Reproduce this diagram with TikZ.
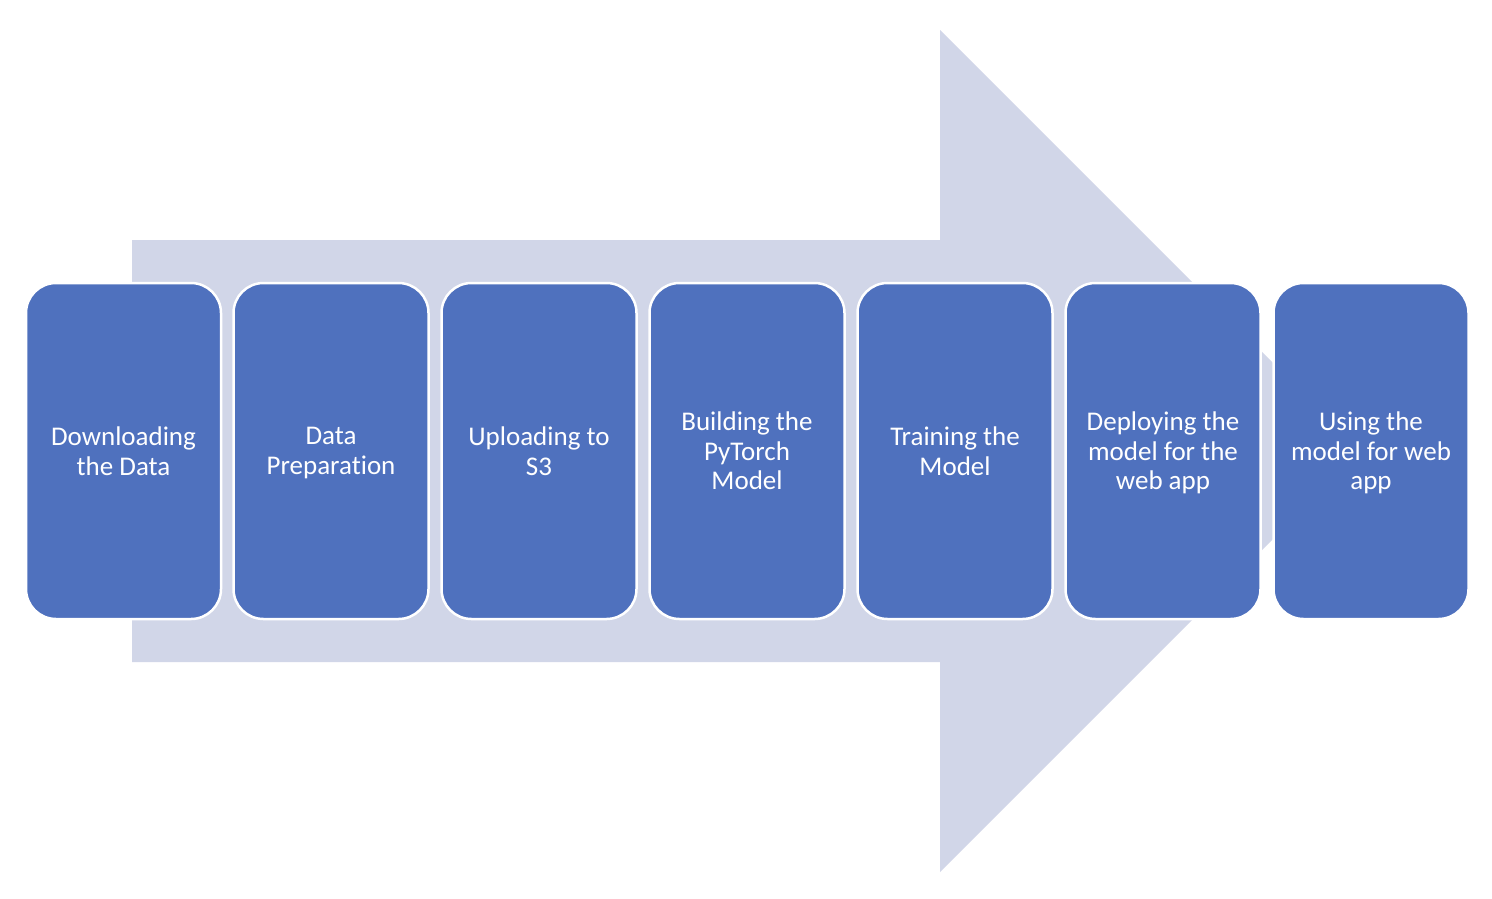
\documentclass[tikz,border=0pt]{standalone}
\usepackage{fontspec}
\setmainfont{Carlito}[Ligatures=NoCommon]
\definecolor{boxblue}{HTML}{4F71BE}
\definecolor{arrowgray}{HTML}{D1D6E8}
\begin{document}
\begin{tikzpicture}[x=1pt,y=-1pt,
  stepbox/.style={draw=white, line width=2.5pt, fill=boxblue, rounded corners=30pt,
    minimum width=195pt, minimum height=336pt, text=white, align=center,
    font=\fontsize{27}{29.5}\selectfont, inner sep=0pt}]
\useasboundingbox (0,0) rectangle (1492,898);
\fill[white] (0,0) rectangle (1492,898);
\fill[arrowgray] (132,240) -- (940,240) -- (940,30) -- (1361,451) -- (940,872) -- (940,662) -- (132,662) -- cycle;
\node[stepbox] (s1) at (123.5,451) {Downloading\\the Data};
\node[stepbox] (s2) at (331,451) {Data\\\smash{Preparation}};
\node[stepbox] (s3) at (539,451) {Uploading to\\S3};
\node[stepbox] (s4) at (747,451) {Building the\\PyTorch\\Model};
\node[stepbox] (s5) at (955,451) {Training the\\Model};
\node[stepbox] (s6) at (1163,451) {Deploying the\\model for the\\\smash{web app}};
\node[stepbox] (s7) at (1371,451) {Using the\\model for web\\\smash{app}};
\end{tikzpicture}
\end{document}
